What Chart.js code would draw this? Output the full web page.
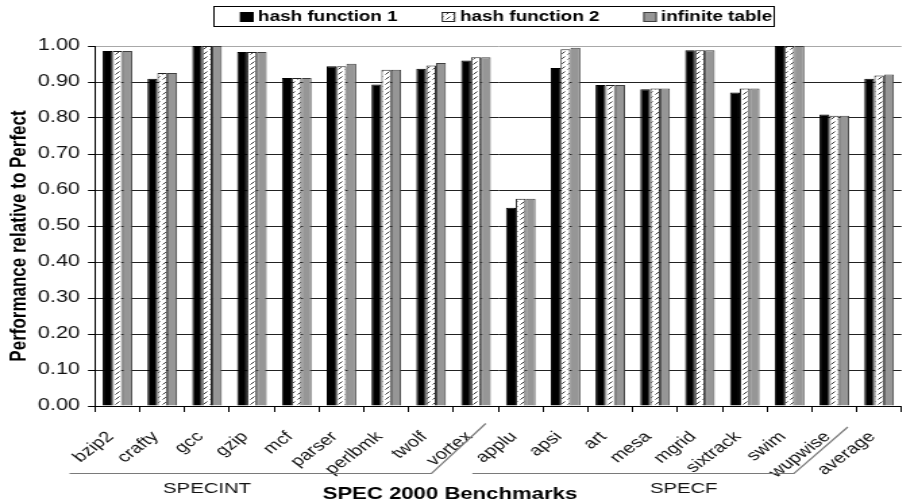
<!DOCTYPE html>
<html>
<head>
<meta charset="utf-8">
<script src="https://cdn.jsdelivr.net/npm/chart.js@4.4.1/dist/chart.umd.min.js"></script>
<style>
  html, body { margin:0; padding:0; background:#fff; overflow:hidden; width:902px; height:504px; }
  #c { display:block; transform: scaleX(1.35); transform-origin: 0 0; }
</style>
</head>
<body>
<canvas id="c" width="680" height="504"></canvas>
<script>
const categories = ['bzip2','crafty','gcc','gzip','mcf','parser','perlbmk','twolf','vortex',
  'applu','apsi','art','mesa','mgrid','sixtrack','swim','wupwise','average'];
const seriesNames = ['hash function 1','hash function 2','infinite table'];
const hash1 = [0.986,0.909,1.000,0.983,0.911,0.944,0.893,0.937,0.960,0.551,0.939,0.892,0.880,0.988,0.871,1.000,0.810,0.909];
const hash2 = [0.986,0.925,1.000,0.983,0.911,0.944,0.934,0.946,0.969,0.576,0.991,0.892,0.882,0.988,0.882,1.000,0.806,0.918];
const infiniteTable = [0.986,0.925,1.000,0.983,0.911,0.951,0.934,0.953,0.969,0.576,0.995,0.892,0.882,0.988,0.882,1.000,0.806,0.921];
const yTicks = [0,0.1,0.2,0.3,0.4,0.5,0.6,0.7,0.8,0.9,1.0];
const groupNames = ['SPECINT','SPECF'];
const groupSizes = [9, 8];
const xTitle = 'SPEC 2000 Benchmarks';
const yTitle = 'Performance relative to Perfect';

const FONT = '"Liberation Sans", Arial, Helvetica, sans-serif';

// hatch pattern
const pc = document.createElement('canvas');
pc.width = 5; pc.height = 5;
const pctx = pc.getContext('2d');
pctx.fillStyle = '#fff'; pctx.fillRect(0,0,5,5);
pctx.strokeStyle = '#333'; pctx.lineWidth = 1;
pctx.beginPath(); pctx.moveTo(0.5,4.5); pctx.lineTo(3.5,1.5); pctx.stroke();
const ctx0 = document.getElementById('c').getContext('2d');
const hatch = ctx0.createPattern(pc, 'repeat');

const fills = ['#000000', hatch, '#969696'];
const borders = ['#000000', '#222222', '#404040'];

const decor = {
  id: 'decor',
  afterDraw(chart) {
    const ctx = chart.ctx;
    const x = chart.scales.x;
    const cw = (x.right - x.left) / categories.length;
    const b = i => x.left + i * cw;
    ctx.save();
    // multi-level category brackets
    const g1 = groupSizes[0], g2 = groupSizes[0] + groupSizes[1];
    ctx.strokeStyle = '#7a7a7a';
    ctx.lineWidth = 1.2;
    ctx.beginPath();
    ctx.moveTo(b(0) - 0.57 * cw, 473.5);
    ctx.lineTo(b(g1) - 1.49 * cw, 473.5);
    ctx.lineTo(b(g1) - 0.28 * cw, 423.5);
    ctx.moveTo(b(g1) - 0.58 * cw, 473.5);
    ctx.lineTo(b(g2) - 1.40 * cw, 473.5);
    ctx.lineTo(b(g2) - 0.20 * cw, 427);
    ctx.stroke();

    ctx.fillStyle = '#111';
    ctx.textAlign = 'center';
    ctx.textBaseline = 'middle';
    ctx.font = '15px ' + FONT;
    ctx.fillText(groupNames[0], b(0) + 2.5 * cw, 489);
    ctx.fillText(groupNames[1], b(g1) + 4.14 * cw, 489);
    ctx.font = 'bold 16.4px ' + FONT;
    ctx.fillStyle = '#000';
    ctx.fillText(xTitle, b(0) + 7.92 * cw, 494);

    // y title
    ctx.save();
    ctx.translate(14, 236);
    ctx.rotate(-Math.PI / 2);
    ctx.font = 'bold 17px ' + FONT;
    ctx.fillText(yTitle, 0, 0);
    ctx.restore();

    // legend
    ctx.strokeStyle = '#000';
    ctx.lineWidth = 1;
    ctx.strokeRect(158.5, 6.5, 415, 20);
    const sq = [177.8, 327.2, 476.5];
    const tx = [191.1, 340.7, 489.6];
    ctx.font = 'bold 14px ' + FONT;
    ctx.textAlign = 'left';
    for (let i = 0; i < 3; i++) {
      ctx.fillStyle = fills[i];
      ctx.fillRect(sq[i], 12, 10, 10);
      ctx.strokeStyle = borders[i];
      ctx.strokeRect(sq[i] + 0.5, 12.5, 9, 9);
      ctx.fillStyle = '#000';
      ctx.fillText(seriesNames[i], tx[i], 17.5);
    }
    ctx.restore();
  }
};

new Chart(document.getElementById('c'), {
  type: 'bar',
  data: {
    labels: categories,
    datasets: [hash1, hash2, infiniteTable].map((d, i) => ({
      label: seriesNames[i],
      data: d,
      backgroundColor: fills[i],
      borderColor: borders[i],
      borderWidth: 1,
      categoryPercentage: 0.66,
      barPercentage: 1.0
    }))
  },
  options: {
    responsive: false,
    devicePixelRatio: 1,
    animation: false,
    layout: { padding: { top: 46, right: 2.6, left: 0, bottom: 0 } },
    plugins: { legend: { display: false }, tooltip: { enabled: false } },
    scales: {
      x: {
        afterFit(s) { s.height = 98; },
        grid: { offset: true, drawOnChartArea: false, drawTicks: true, tickLength: 6, color: '#000' },
        border: { color: '#000', width: 1 },
        ticks: {
          autoSkip: false, maxRotation: 45, minRotation: 45, padding: 16, labelOffset: -5,
          color: '#111', font: { family: FONT, size: 15 }
        }
      },
      y: {
        min: 0, max: 1,
        afterFit(s) { s.width = 70.4; },
        afterBuildTicks(s) { s.ticks = yTicks.map(v => ({ value: v })); },
        grid: {
          color: c => (c.tick && c.tick.value >= 0.999) ? '#a8a8a8' : '#222',
          tickColor: '#000', tickLength: 5.2, lineWidth: 1
        },
        border: { color: '#000', width: 1 },
        ticks: {
          padding: 6, color: '#111',
          font: { family: FONT, size: 16 },
          callback: v => Number(v).toFixed(2)
        }
      }
    }
  },
  plugins: [decor]
});
</script>
</body>
</html>
